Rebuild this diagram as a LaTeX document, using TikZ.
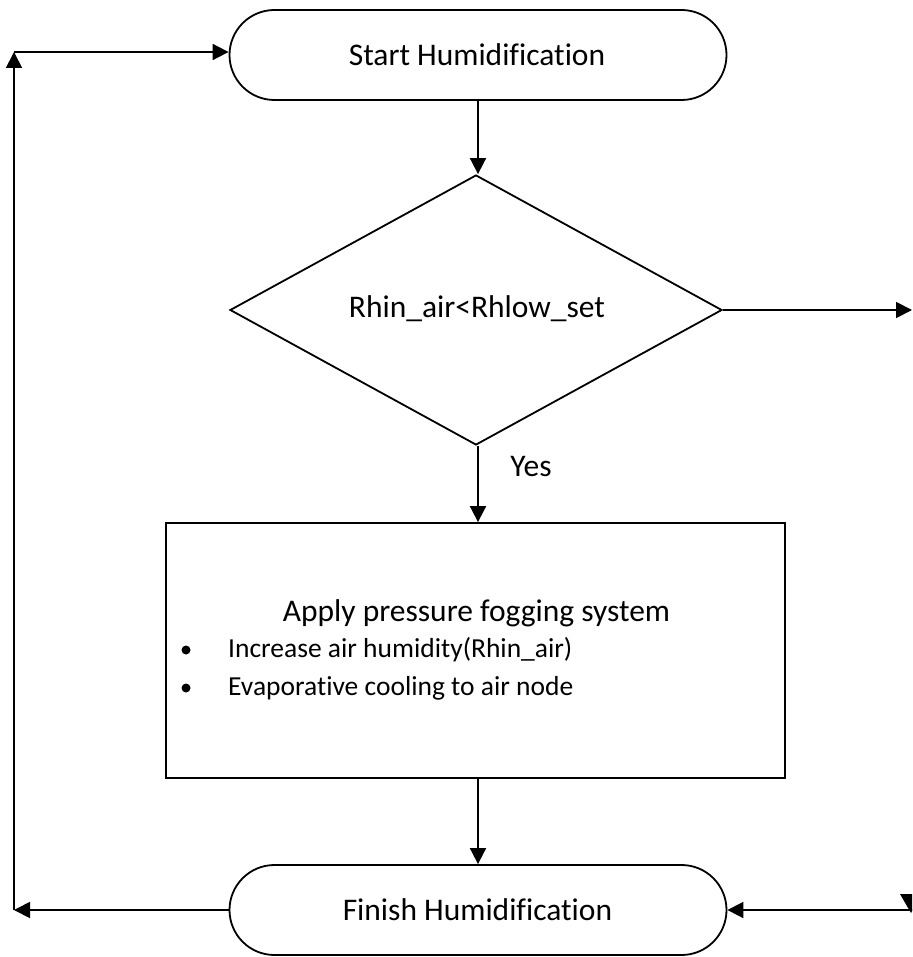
\documentclass[tikz,border=0pt]{standalone}
\usepackage{fontspec}
\setmainfont[Ligatures=NoCommon]{Carlito}
\usetikzlibrary{arrows.meta,shapes.geometric,shapes.misc}
\tikzset{
  flowline/.style={line width=1.8pt, -{Triangle[length=16pt,width=16pt]}},
  terminal/.style={draw, line width=1.8pt, rounded rectangle, minimum width=497pt, minimum height=90pt, inner sep=0pt},
  decision/.style={draw, line width=1.8pt, diamond, minimum width=492pt, minimum height=270pt, inner sep=0pt},
  process/.style={draw, line width=1.8pt, rectangle, minimum width=619pt, minimum height=255pt, inner sep=0pt},
  bigtxt/.style={font=\fontsize{31.5}{38}\selectfont, inner sep=0pt},
  smalltxt/.style={font=\fontsize{27.5}{33}\selectfont, inner sep=0pt, anchor=west},
  bulletdot/.style={fill, circle, inner sep=0pt, minimum size=9pt},
}
\begin{document}
\begin{tikzpicture}[x=1pt,y=-1pt]
  \useasboundingbox (0,0) rectangle (912,957);
  \begin{scope}
  \clip (0,0) rectangle (912,957);
  % shapes
  \node[terminal] (start) at (478,55) {};
  \node[bigtxt] (starttext) at (477,55) {Start Humidification};
  \node[decision] (cond) at (476,310) {};
  \node[bigtxt] (condtext) at (477,309) {Rhin\_air<Rhlow\_set};
  \node[process] (apply) at (475.5,650.5) {};
  \node[bigtxt] (l1) at (476.5,613) {Apply pressure fogging system};
  \node[smalltxt] (l2) at (228,650) {Increase air humidity(Rhin\_air)};
  \node[smalltxt] (l3) at (228,688) {Evaporative cooling to air node};
  \node[bulletdot] (b2) at (186,650) {};
  \node[bulletdot] (b3) at (186,688) {};
  \node[terminal] (finish) at (478,910) {};
  \node[bigtxt] (finishtext) at (477.5,910) {Finish Humidification};
  \node[bigtxt] (yes) at (531,467) {Yes};
  % free ends of the loop connectors
  \coordinate (rightout) at (912,310);
  \coordinate (rightin) at (913,910);
  \coordinate (leftbot) at (14,910);
  \coordinate (lefttop) at (14,52);
  % connectors
  \draw[flowline] (start.south) -- (start.south |- cond.north);
  \draw[flowline] (start.south |- cond.south) -- (start.south |- apply.north);
  \draw[flowline] (start.south |- apply.south) -- (finish.north);
  \draw[flowline] (cond.east) -- (rightout);
  \draw[flowline] (rightin) -- (finish.east);
  \draw[flowline] (finish.west) -- (leftbot);
  \draw[flowline] (leftbot) -- (lefttop);
  \draw[flowline] (lefttop) -- (start.west |- lefttop);
  % incoming arrowhead at the lower right edge
  \fill (900,894) -- (922,894) -- (911,913) -- cycle;
  \end{scope}
\end{tikzpicture}
\end{document}
